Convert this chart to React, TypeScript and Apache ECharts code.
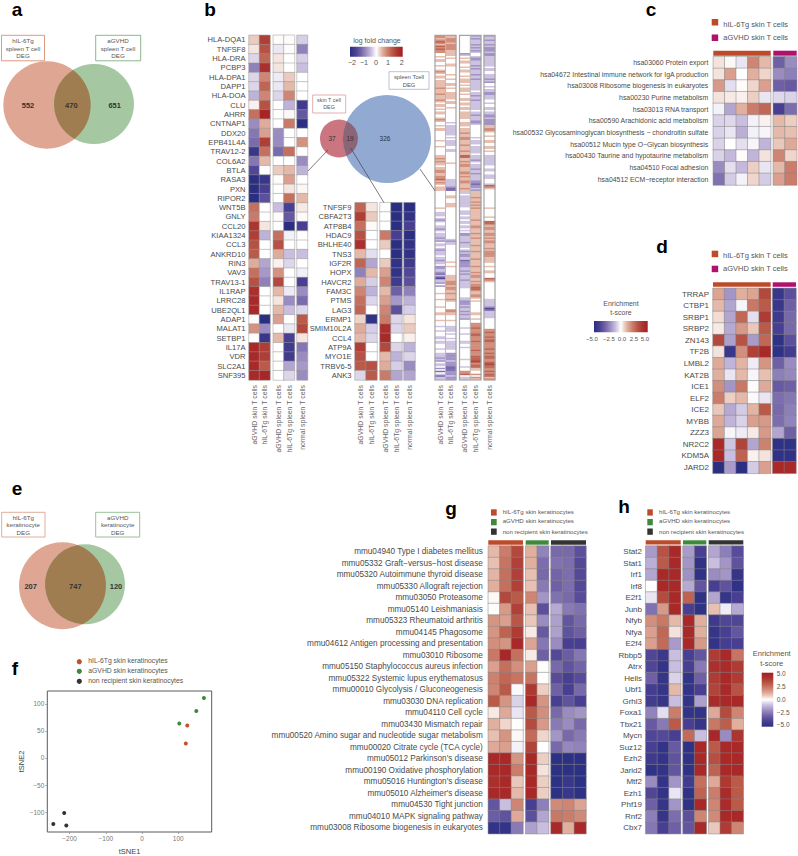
import React, { useEffect, useRef } from "react";
import * as echarts from "echarts";

const FONT = "Liberation Sans";

// ---------- panel b, left heatmap (log fold change) ----------
const bLeftGenes = ["HLA-DQA1","TNFSF8","HLA-DRA","PCBP3","HLA-DPA1","DAPP1","HLA-DOA","CLU","AHRR","CNTNAP1","DDX20","EPB41L4A","TRAV12-2","COL6A2","BTLA","RASA3","PXN","RIPOR2","WNT5B","GNLY","CCL20","KIAA1324","CCL3","ANKRD10","RIN3","VAV3","TRAV13-1","IL1RAP","LRRC28","UBE2QL1","ADAP1","MALAT1","SETBP1","IL17A","VDR","SLC2A1","SNF395"];
const bLeftValues = [
[0.3,1.5,0.02,0.02,-0.3],[0.15,1.3,-0.15,0.02,-0.9],[-0.25,1.1,0.15,0,-0.3],[-0.9,1.7,0.15,0,-0.4],[-0.25,0.8,-0.12,0.3,0],
[-0.25,1.1,-0.15,0.4,0],[-0.5,0.8,-0.25,0.8,0],[0.08,1.3,0,-0.5,-1.7],[1.0,1.9,0,0.05,-1.3],[-0.8,0.5,0,0.9,-2],
[-1.0,0.6,-0.8,0,0],[-1.1,1.5,-0.8,0,0.7],[-1.8,1.0,-1.1,1.0,0],[-1.0,0.4,0,0,-0.8],[-1.5,0,0.3,0.4,-0.5],
[-2,-1.8,0.02,0.6,0],[-2,-1.6,0,0.15,0.05],[-2,-1.4,0,1.0,0.4],[1.0,0,-0.4,-1.6,0.12],[0.9,0,0.02,-1.3,0.03],
[1.6,0.15,0,-2,-1.6],[1.5,-0.5,1.0,-0.08,0],[1.3,0,1.3,0,0],[1.2,0,0.5,-0.4,-0.4],[0.5,-0.6,0.08,-0.25,0],
[1.0,-0.7,0.7,0,-0.1],[1.3,-0.9,1.4,0,-1.6],[1.7,0,0.4,-0.12,-0.8],[1.8,0,0.15,-0.8,-1.1],[1.8,0,0.4,-0.4,-0.25],
[0.03,-2,0.6,0,1.2],[0.7,-0.8,0,-0.15,1.4],[0,-1.8,0.4,-1.6,0.15],[1.8,1.5,0,-1.7,-1.0],[1.8,1.5,0,-1.7,-0.8],
[1.8,1.2,0,-0.6,-0.7],[1.8,1.85,0,-0.25,-0.8]];

// ---------- panel b, middle heatmap ----------
const bMidGenes = ["TNFSF9","CBFA2T3","ATP8B4","HDAC9","BHLHE40","TNS3","IGF2R","HOPX","HAVCR2","FAM3C","PTMS","LAG3","ERMP1","SMIM10L2A","CCL4","ATP9A","MYO1E","TRBV6-5","ANK3"];
const bMidValues = [
[1.1,0.15,0,-2,-2],[1.5,0.3,0,-2,-1.9],[1.0,0.03,0,-2,-1.6],[1.3,0,0.9,-1.6,-2],[1.7,0,0.3,-2,-1.9],
[0.4,-0.2,0,-2,-1.9],[1.1,-0.6,0.3,-1.9,-1.7],[-0.9,0.4,0.6,-1.9,-1.5],[0.5,-0.3,0.8,-1.7,-1.4],[0.8,-0.5,0.4,-1.2,-0.9],
[1.0,-0.25,0.6,-0.7,-0.5],[1.1,0,0.8,-1.4,-0.3],[0.25,-1.9,0.9,-0.25,0.15],[0.5,-0.3,1.7,-0.25,0.3],[0.4,-0.25,1.8,0,0.08],
[1.5,0,1.4,-0.25,-0.5],[1.3,0,0.4,-0.5,-0.25],[1.2,1.3,0.5,-0.3,-0.8],[-0.25,1.2,0.9,-0.6,-0.6]];

// ---------- panel b, right strip heatmap: one digit per band, 4 = no change ----------
const stripAgvhdSkin = "665676576766"+"44545544544565455455"+"5556555655565455"+"4545544565445455"+"4444445444544444"+"556565545566556675654555"+"44444444444544"+"3334323443323433323243343233"+"3433233422332131033242"+"444454445444454445544454"+"44344344433433444344"+"333232433424143133";
const stripHil6Skin = "556665666655"+"55454445544444544544"+"5545445555545544"+"5444444444343333"+"3334343333443344"+"444445444444444433333211"+"44455444555444"+"4444444444444444443233444444"+"4444454454444455556665"+"665565556544444665544454"+"44333343443433333344"+"222223222111222322";
const stripAgvhdSpleen = "444444444444"+"23454554454554454555"+"4545554544554554"+"5545555544555455"+"5655665556555655"+"775565665556656556655565"+"33433333333443"+"3343343343343422333323334323"+"2233122223323233323333"+"344444433222323323233244"+"44434443444433443444"+"444434444344667433";
const stripHil6Spleen = "232333232323"+"44322333232333233233"+"3333343323323333"+"3343323332234444"+"4444343334333334"+"333234333233233332212232"+"55556556565655"+"5555565556655565565555655565"+"5556555565556566556566"+"776556654544444445544544"+"66676667766676666676"+"667778767755446465";
const stripNormalSpleen = "233233232223"+"22333333343344333232"+"4434332233344344"+"3343322322225566"+"5445445544554544"+"333333344334433344437654"+"44444444444544"+"4445447765665566565665556566"+"6655554454455444765444"+"444444443333320133333444"+"44446676676776666766"+"767766787766767756";

const bColumns = ["aGVHD skin T cells","hIL-6Tg skin T cells","aGVHD spleen T cells","hIL-6Tg spleen T cells","normal spleen T cells"];

// ---------- panel c ----------
const cPathways = ["hsa03060 Protein export","hsa04672 Intestinal immune network for IgA production","hsa03008 Ribosome biogenesis in eukaryotes","hsa00230 Purine metabolism","hsa03013 RNA transport","hsa00590 Arachidonic acid metabolism","hsa00532 Glycosaminoglycan biosynthesis − chondroitin sulfate","hsa00512 Mucin type O−Glycan biosynthesis","hsa00430 Taurine and hypotaurine metabolism","hsa04510 Focal adhesion","hsa04512 ECM−receptor interaction"];
const cValues = [
[0.4,0.1,-0.4,2,1,-3,-2],[0.4,1.5,0,1.2,0.6,-2,-2.3],[1.6,-0.5,0.05,0.6,1.5,-3,-3.2],[0.4,0.3,0.2,0.7,-0.4,-0.6,-0.7],
[-0.2,-1.5,1.2,2.2,2.7,-4,-2.7],[-0.7,-0.6,-1,-0.2,0.2,1,0.7],[-0.7,-0.4,-1.3,-0.2,-0.15,1,0.9],[-0.7,0,-0.5,-0.15,-1.2,0.8,1.3],
[-0.7,-1.1,0.05,-1.2,0.4,2,0.6],[-2,-0.5,-1.1,0.7,-0.4,1,2.2],[-2.6,-0.8,-0.2,0.6,-0.8,1.5,2.2]];

// ---------- panel d ----------
const dFactors = ["TRRAP","CTBP1","SRBP1","SRBP2","ZN143","TF2B","LMBL2","KAT2B","ICE1","ELF2","ICE2","MYBB","ZZZ3","NR2C2","KDM5A","JARD2"];
const dValues = [
[1.4,-1.8,1.2,1.4,3.5,-4.5,-3.5],[1.0,-1.5,-0.15,2.3,3,-4.5,-3],[0.5,-1.5,2.7,-0.5,3.8,-4.3,-2.8],[0.3,-1.4,1.6,0.8,3,-4,-2.8],
[3.5,-1.6,3.2,-1.7,2.7,-4.8,-3.5],[0.4,-4.5,1.8,3.7,4.5,-4.8,-4.2],[1.3,-1.2,1.1,-0.3,1.7,-3,-2],[1.2,-0.4,1,-0.15,0.9,-2.3,-2.1],
[1.8,-1.8,2.3,0.05,1.3,-3.2,-3],[2.2,0.7,1,-0.1,-0.4,-2.7,-2.5],[0.8,-1.4,-0.8,1.1,3,-2.8,-2.3],[1.3,-1.2,-0.7,1.5,1.6,-2.7,-2.2],
[1.4,-0.15,-0.3,0.3,1.6,-1.5,-3],[4.5,-0.9,3.6,-1.5,2.1,-4.8,-4.8],[4.5,-1,2.8,0.2,0.4,-4.8,-4.8],[-5,-1.7,-5,-0.8,1.5,4.5,4.5]];

// ---------- panel g ----------
const gPathways = ["mmu04940 Type I diabetes mellitus","mmu05332 Graft−versus−host disease","mmu05320 Autoimmune thyroid disease","mmu05330 Allograft rejection","mmu03050 Proteasome","mmu05140 Leishmaniasis","mmu05323 Rheumatoid arthritis","mmu04145 Phagosome","mmu04612 Antigen processing and presentation","mmu03010 Ribosome","mmu05150 Staphylococcus aureus infection","mmu05322 Systemic lupus erythematosus","mmu00010 Glycolysis / Gluconeogenesis","mmu03030 DNA replication","mmu04110 Cell cycle","mmu03430 Mismatch repair","mmu00520 Amino sugar and nucleotide sugar metabolism","mmu00020 Citrate cycle (TCA cycle)","mmu05012 Parkinson's disease","mmu00190 Oxidative phosphorylation","mmu05016 Huntington's disease","mmu05010 Alzheimer's disease","mmu04530 Tight junction","mmu04010 MAPK signaling pathway","mmu03008 Ribosome biogenesis in eukaryotes"];
const gValues = [
[1,2.2,3.5,1.2,-2.2,-2.8,-2.8,-3.5],[0.9,2.4,3.7,1.2,-2.7,-2.6,-2.7,-3.7],[1.1,2.5,3.7,0.9,-2.8,-2.9,-2.7,-3.7],[1.2,2.5,3.7,0.9,-2.4,-3,-2.7,-3.7],
[0.1,3.5,3,2,-1.8,-2.6,-2.8,-3.6],[0.05,1.6,3.7,0.9,-3.5,-1.4,-2.4,-2.6],[1.7,1.5,3.1,0.8,-2,-1.6,-3.3,-2.8],[1.7,2.8,3.8,0.3,-3.2,-1.6,-3.4,-3],
[1.8,1.7,4.5,1.4,-2.5,-2,-4,-4],[2.3,4.6,2.5,0.3,-3,-3.7,-3.1,-2.5],[1.5,2.5,1.8,1.5,0.03,-2.8,-3.4,-2.9],[2.1,2.7,2.4,2.4,0.02,-3.6,-4,-3.6],
[2,3,-0.1,3.9,0.7,-3,-4,-2.8],[3,1.7,-0.7,4.5,1.7,-4,-3.4,-4],[0.3,1.3,-0.4,3,1.8,-2.8,-2,-1.8],[1.2,0.6,0.02,3.4,1.6,-2.4,-2,-2.8],
[0.9,1.7,0.1,2.6,0.6,-1.8,-2.8,-2.4],[1.3,1.5,-0.2,3.6,0,-2.8,-2.1,-2.2],[4.5,4.5,1.7,4.5,0.7,-4.9,-4.9,-4.9],[4.5,4.5,2.2,4.5,0.4,-4.9,-4.9,-4.9],
[4.2,4.5,0.8,4.5,0.7,-4.9,-4.5,-4.9],[4.5,4.5,1,4.5,0.7,-4.9,-4.5,-4.9],[-3.3,-1,2,-4,-2.3,1.9,2,1.4],[-3.1,-3.4,1.3,-3.5,-1.5,2.3,2.2,1.9],[-4.7,-4.7,-2.4,-1.6,-1,4.5,1.2,4.5]];

// ---------- panel h ----------
const hFactors = ["Stat2","Stat1","Irf1","Irf8","E2f1","Junb","Nfyb","Nfya","E2f4","Rbbp5","Atrx","Hells","Ubf1","Grhl3","Foxa1","Tbx21","Mycn","Suz12","Ezh2","Jarid2","Mtf2","Ezh1","Phf19","Rnf2","Cbx7"];
const hValues = [
[-1.7,3.2,4.5,-1.7,-4,-1.5,-2.3,-3.6],[-1.3,3,4.5,-1.8,-4.8,-1,-1.8,-3.4],[-1.5,4.5,4.5,-1.9,-4.8,-2,-1.8,-4.6],[0,4.5,4.5,-1.4,-3.3,-4,-3.4,-4.8],
[-0.4,3.4,4.5,2.8,-4.8,-1.5,-4.6,-4],[-2.6,1.6,4.5,-4,-4.8,0.9,-0.3,-1.4],[1.8,2.3,1,4.5,1.2,-4.3,-3.8,-3.8],[1.5,2.7,0.4,4.5,1.2,-4.6,-4,-3.3],
[1.5,2.6,-1.7,4.5,1.6,-4.7,-4.1,-4],[-3.8,-4.4,-1,-4,-3.3,3.8,4.5,2.4],[-3.8,-4.7,-1,-4,-2.4,4.2,4.4,3.8],[-3,-4.6,-0.7,-4.7,-3,3.8,4.5,3.8],
[-4.1,-4.6,1,-4.7,-4,3.6,4.5,3.2],[-4.2,-4.6,-1,-4.7,-1.6,4.4,4.5,4.5],[-2.2,-0.5,2.2,-4.7,-4.7,1.3,3.4,2],[-3.2,-2.4,3,-4,-4.6,2.3,2.9,1.2],
[-3.8,-3.7,-4,2.6,-1,4.6,-2,4],[-4,-4.7,-3.2,-4.8,4.5,3,4.5,4.5],[-4.3,-4.7,-3.4,-4.8,4.5,3.3,4.5,4.5],[-4.8,-4.7,-3.3,-4.8,4.5,2.8,4.5,4.5],
[-2,-4.7,-1.8,-4.2,2.5,1.3,3.9,3],[-3.8,-4.7,-0.4,-4.8,2.8,2.2,4.4,3],[-3,-4.6,-1.8,-4.8,4.5,2,4.4,3],[-2.3,-4.6,-2.7,-3.5,2,1.9,4.5,4.5],[-2.5,-4,-3,-3.3,4.5,0.8,3.8,2]];

// ---------- panel f ----------
const fHil6 = [[125,60],[121,27]];
const fAgvhd = [[103,64],[150,87],[171,111]];
const fNonRecipient = [[-215,-102],[-245,-122],[-209,-125]];
const fXTicks = [-200,-100,0,100];
const fYTicks = [-100,-50,0,50,100];

// ---------- Venn counts ----------
const vennA = ["552","470","651"];
const vennB = ["37","19","326"];
const vennE = ["207","747","120"];

const SCALE = ["#2a2f82","#483f92","#6f60a6","#9a8cc1","#c9bedf","#ffffff","#e4b9a9","#cf8573","#ba5a49","#ab3530","#a61d22"];

function lensPath(a: number[], b: number[]) {
  const [x1,y1,r1] = a, [x2,y2,r2] = b;
  const d = Math.hypot(x2-x1,y2-y1);
  const l = (r1*r1-r2*r2+d*d)/(2*d);
  const h = Math.sqrt(r1*r1-l*l);
  const ux=(x2-x1)/d, uy=(y2-y1)/d;
  const px=x1+ux*l, py=y1+uy*l;
  const ax=px-uy*h, ay=py+ux*h, bx=px+uy*h, by=py-ux*h;
  const large2 = l > d ? 1 : 0;
  return `M${ax} ${ay}A${r1} ${r1} 0 0 0 ${bx} ${by}A${r2} ${r2} 0 ${large2} 0 ${ax} ${ay}Z`;
}

export default function App() {
  const ref = useRef<HTMLDivElement>(null);
  useEffect(() => {
    const chart = echarts.init(ref.current!, undefined, { renderer: "svg" });
    const grids: any[] = [], xAxes: any[] = [], yAxes: any[] = [], series: any[] = [];
    const els: any[] = [];
    const fcSeries: number[] = [], tSeries: number[] = [];

    const txt = (x: number, y: number, text: string, size: number, fill = "#555", align = "left", weight = "normal", extra: any = {}) =>
      els.push({ type: "text", x, y, z: 100, silent: true, ...extra,
        style: { text, fill, font: `${weight} ${size}px "${FONT}"`, align, verticalAlign: "middle", textAlign: align, textVerticalAlign: "middle" } });
    const rect = (x: number, y: number, w: number, h: number, fill: any, stroke: any = null, lw = 0) =>
      els.push({ type: "rect", z: 100, silent: true, shape: { x, y, width: w, height: h }, style: { fill, stroke, lineWidth: lw } });
    const line = (x1: number, y1: number, x2: number, y2: number, stroke = "#444", lw = 0.7) =>
      els.push({ type: "line", z: 100, silent: true, shape: { x1, y1, x2, y2 }, style: { stroke, lineWidth: lw } });

    const addBlock = (o: { left: number; right: number; top: number; bottom: number; rows: string[]; cols: string[]; values: number[][];
      rowLabels: boolean; rowSize: number; rowMargin: number; colLabels: boolean; isFc: boolean; border: string; bw: number }) => {
      const i = grids.length;
      grids.push({ left: o.left, top: o.top, width: o.right - o.left, height: o.bottom - o.top, show: false });
      xAxes.push({ gridIndex: i, type: "category", data: o.cols, position: "bottom",
        axisLine: { show: false }, axisTick: { show: false }, splitLine: { show: false },
        axisLabel: { show: o.colLabels, rotate: 90, interval: 0, margin: 5, fontSize: 6.9, color: "#666", fontFamily: FONT } });
      yAxes.push({ gridIndex: i, type: "category", data: o.rows, inverse: true,
        axisLine: { show: false }, axisTick: { show: false }, splitLine: { show: false },
        axisLabel: { show: o.rowLabels, interval: 0, margin: o.rowMargin, fontSize: o.rowSize, color: "#4a4a4a", fontFamily: FONT } });
      const data: any[] = [];
      o.values.forEach((r, y) => r.forEach((v, x) => data.push([x, y, v])));
      (o.isFc ? fcSeries : tSeries).push(series.length);
      series.push({ type: "heatmap", xAxisIndex: i, yAxisIndex: i, data, progressive: 0,
        itemStyle: { borderColor: o.border, borderWidth: o.bw }, emphasis: { disabled: true } });
    };

    // Panel b three heatmaps
    const bSlice = (m: number[][], a: number, b: number) => m.map((r) => r.slice(a, b));
    const bGroups = (offs: number[][], genes: string[], vals: number[][], top: number) => {
      const splits = [[0,2],[2,4],[4,5]];
      offs.forEach((g, k) => addBlock({ left: g[0], right: g[1], top, bottom: 380, rows: genes, cols: bColumns.slice(splits[k][0], splits[k][1]),
        values: bSlice(vals, splits[k][0], splits[k][1]), rowLabels: k === 0, rowSize: 7.6, rowMargin: 3.5, colLabels: true, isFc: true, border: "#969696", bw: 0.5 }));
    };
    bGroups([[249,270],[273.3,294.5],[297,307.5]], bLeftGenes, bLeftValues, 35.3);
    bGroups([[355,377],[380,402],[404,415]], bMidGenes, bMidValues, 202.7);

    const strips = [stripAgvhdSkin, stripHil6Skin, stripAgvhdSpleen, stripHil6Spleen, stripNormalSpleen];
    const nBands = strips[0].length;
    const bands = Array.from({ length: nBands }, (_, i) => strips.map((s) => (Number(s[i]) - 4) / 2.7));
    const bandNames = bands.map((_, i) => String(i + 1));
    const splits = [[0,2],[2,4],[4,5]];
    [[435,456],[459.5,481],[484,495]].forEach((g, k) => {
      addBlock({ left: g[0], right: g[1], top: 35.3, bottom: 380, rows: bandNames, cols: bColumns.slice(splits[k][0], splits[k][1]),
        values: bSlice(bands, splits[k][0], splits[k][1]), rowLabels: false, rowSize: 7, rowMargin: 3, colLabels: true, isFc: true, border: "transparent", bw: 0 });
      rect(g[0], 35.3, g[1] - g[0], 344.7, "none", "#a3a3a3", 1.2);
      if (g[1] - g[0] > 15) line((g[0] + g[1]) / 2, 35.3, (g[0] + g[1]) / 2, 380, "#b8b8b8", 1);
    });

    // Panel c, d, g, h
    const emptyCols = (n: number) => Array.from({ length: n }, (_, i) => "s" + (i + 1));
    const tBlocks = (groups: number[][], counts: number[], top: number, bottom: number, rows: string[], vals: number[][], size: number, margin: number) => {
      let a = 0;
      groups.forEach((g, k) => {
        const b = a + counts[k];
        addBlock({ left: g[0], right: g[1], top, bottom, rows, cols: emptyCols(counts[k]), values: bSlice(vals, a, b),
          rowLabels: k === 0, rowSize: size, rowMargin: margin, colLabels: false, isFc: false, border: "#858585", bw: 0.5 });
        a = b;
      });
    };
    tBlocks([[713.3,770.7],[773.3,796.7]], [5,2], 56.7, 185, cPathways, cValues, 6.9, 5);
    tBlocks([[713,770.7],[772.7,796]], [5,2], 288.3, 473.3, dFactors, dValues, 8, 4);
    tBlocks([[488.3,523],[525.7,548.7],[551,586]], [3,2,3], 546, 833.7, gPathways, gValues, 8.2, 5.5);
    tBlocks([[645.7,680.7],[683,706.3],[708.7,743.3]], [3,2,3], 546, 833.7, hFactors, hValues, 8, 3.7);

    // Panel f scatter
    const fi = grids.length;
    grids.push({ left: 47.3, top: 691, width: 164.4, height: 147.7, show: true, borderColor: "#5a5a5a", borderWidth: 1, backgroundColor: "transparent" });
    const tick = { show: true, length: 2, lineStyle: { color: "#888", width: 0.7 } };
    xAxes.push({ gridIndex: fi, type: "value", min: -261.6, max: 192.5, name: "tSNE1", nameLocation: "middle", nameGap: 15,
      nameTextStyle: { fontSize: 7.5, color: "#444", fontFamily: FONT },
      axisLine: { show: false, onZero: false }, splitLine: { show: false }, axisTick: { ...tick, customValues: fXTicks },
      axisLabel: { customValues: fXTicks, fontSize: 6.5, color: "#777", margin: 3, fontFamily: FONT, formatter: (v: number) => String(v).replace("-", "−") } });
    yAxes.push({ gridIndex: fi, type: "value", min: -137, max: 124, name: "tSNE2", nameLocation: "middle", nameGap: 14, nameRotate: 90,
      nameTextStyle: { fontSize: 7.5, color: "#444", fontFamily: FONT },
      axisLine: { show: false, onZero: false }, splitLine: { show: false }, axisTick: { ...tick, customValues: fYTicks },
      axisLabel: { customValues: fYTicks, fontSize: 6.5, color: "#777", margin: 3, fontFamily: FONT, formatter: (v: number) => String(v).replace("-", "−") } });
    ([[fHil6, "#c0512a"], [fAgvhd, "#3f8a3a"], [fNonRecipient, "#333333"]] as any[]).forEach(([d, c]) =>
      series.push({ type: "scatter", xAxisIndex: fi, yAxisIndex: fi, data: d, symbolSize: 4, itemStyle: { color: c, opacity: 1 } }));

    // Venns
    const venn = (name: string, c1: number[], c2: number[], f1: string, f2: string, fl: string) => {
      echarts.graphic.registerShape(name, echarts.graphic.extendPath(lensPath(c1, c2), {}) as any);
      els.push({ type: "circle", z: 50, silent: true, shape: { cx: c1[0], cy: c1[1], r: c1[2] }, style: { fill: f1 } });
      els.push({ type: "circle", z: 51, silent: true, shape: { cx: c2[0], cy: c2[1], r: c2[2] }, style: { fill: f2 } });
      els.push({ type: name, z: 52, silent: true, x: 0, y: 0, style: { fill: fl } });
    };
    const RED = "#dfa793", GRN = "#a5c8a2", LENS = "#a07d50";
    const VT = "#555";
    venn("lensA", [47,105,43.7], [94,104,40], RED, GRN, LENS);
    vennA.forEach((t, i) => txt([28,71.3,114.7][i], 105.7, t, 7.5, "#333", "center", "bold"));
    rect(1.5,35.3,43,25.5,"#fff","#d98f75",0.9); rect(95.7,35.3,45,25.5,"#fff","#7fb07f",0.9);
    ["hIL-6Tg","spleen T cell","DEG"].forEach((t,i)=>txt(23,40.5+7.7*i,t,6.2,VT,"center"));
    ["aGVHD","spleen T cell","DEG"].forEach((t,i)=>txt(118,40.5+7.7*i,t,6.2,VT,"center"));

    venn("lensE", [62.5,585.7,43.5], [85,584.3,40], RED, GRN, LENS);
    vennE.forEach((t, i) => txt([30.7,75.3,116][i], 586.3, t, 7.5, "#333", "center", "bold"));
    rect(1.7,512.3,43.3,24.7,"#fff","#e0a48f",0.9); rect(95.7,512.3,44,24.7,"#fff","#8dba8d",0.9);
    ["hIL-6Tg","keratinocyte","DEG"].forEach((t,i)=>txt(23.3,517+7.7*i,t,6.2,VT,"center"));
    ["aGVHD","keratinocyte","DEG"].forEach((t,i)=>txt(117.7,517+7.7*i,t,6.2,VT,"center"));

    venn("lensB", [339,138.5,19], [387,139,44], "#cb7580", "#92a9d2", "#8c6478");
    vennB.forEach((t, i) => txt([332,350,385][i], 138.5, t, 6.5, "#333", "center"));
    rect(312.7,95,33,18,"#fff","#dc9a9a",0.8); rect(389,71.7,40,17.6,"#fff","#a3b2d6",0.8);
    ["skin T cell","DEG"].forEach((t,i)=>txt(329,100+7*i,t,5.4,VT,"center"));
    ["spleen Tcell","DEG"].forEach((t,i)=>txt(409,77+7.5*i,t,5.8,VT,"center"));
    line(308,171,328,150); line(350.7,148,384,202.7); line(420,169,435,190.7);

    // Colour bars
    const grad = (horizontal: boolean, colors: string[]) => new echarts.graphic.LinearGradient(0, 0, horizontal ? 1 : 0, horizontal ? 0 : 1,
      colors.map((color, i) => ({ offset: i / (colors.length - 1), color })));
    txt(377,40.7,"log fold change",7,"#555","center");
    rect(350,46.7,52.7,10,grad(true,SCALE));
    [["−2",352],["−1",364],["0",376],["1",388],["2",401.7]].forEach(([t,x]) => txt(x as number,62,t as string,7.2,"#555","center"));

    txt(621,303,"Enrichment",7,"#555","center"); txt(621,312.7,"t-score",7,"#555","center");
    rect(594,321,53.7,11.3,grad(true,SCALE));
    [["−5.0",592],["−2.5",609],["0.0",622],["2.5",634],["5.0",645]].forEach(([t,x]) => txt(x as number,339,t as string,6,"#555","center"));

    txt(771.7,653.7,"Enrichment",7.5,"#555","center"); txt(771.7,663.3,"t-score",7.5,"#555","center");
    rect(761.7,672.7,11.6,54,grad(false,[...SCALE].reverse()));
    [["5.0",673.3],["2.5",686.7],["0.0",699.3],["−2.5",712],["−5.0",724.7]].forEach(([t,y]) => txt(776.7,y as number,t as string,6.5,"#555","left"));

    // Annotation bars and legends
    const HR = "#bd4b2a", MG = "#b0106e", GR = "#3f8a3a", DK = "#333333";
    rect(713.3,50.7,57.4,5,HR); rect(773.3,50.7,23.4,5,MG);
    rect(711.7,19,6.5,6.5,HR); rect(711.7,34.5,6.5,6.5,MG);
    txt(723.3,24.5,"hIL-6Tg skin T cells",7.5); txt(723.3,37,"aGVHD skin T cells",7.5);
    rect(713,282.3,57.7,4.5,HR); rect(772.7,282.3,23.3,4.5,MG);
    rect(711.7,250.7,6.5,6.5,HR); rect(711.7,265.7,6.5,6.5,MG);
    txt(723,255.7,"hIL-6Tg skin T cells",7.5); txt(723,268,"aGVHD skin T cells",7.5);

    const kLegend = ["hIL-6Tg skin keratinocytes","aGVHD skin keratinocytes","non recipient skin keratinocytes"];
    const kCols = [HR, GR, DK];
    rect(488.3,540.3,34.7,4.4,HR); rect(525.7,540.3,23,4.4,GR); rect(551,540.3,35,4.4,DK);
    rect(645.7,540.3,35,4.2,HR); rect(683,540.3,23.3,4.2,GR); rect(708.7,540.3,34.6,4.2,DK);
    [[509.3,511],[519,520.7],[528.5,531.3]].forEach(([sy,ty],i)=>{
      rect(491,sy,5.7,6.3,kCols[i]); txt(502.7,ty,kLegend[i],6.1);
      rect(647.3,sy,5.5,6.3,kCols[i]); txt(659,ty,kLegend[i],6.1);
    });
    [661.7,671.3,681.3].forEach((y,i)=>{
      els.push({ type:"circle", z:100, silent:true, shape:{cx:79.3,cy:y,r:2.6}, style:{fill:["#c0512a","#3f8a3a","#333333"][i]} });
      txt(88.3,y-1,kLegend[i],6.8);
    });

    // Panel letters
    ([["a",17,9],["b",210,9],["c",651,9],["d",662,246],["e",17,488],["f",15,668],["g",451,508],["h",624,506]] as any[]).forEach(([t,x,y]) =>
      txt(x,y,t,19,"#000","center","bold"));

    chart.setOption({
      animation: false,
      textStyle: { fontFamily: FONT },
      tooltip: { show: false },
      grid: grids, xAxis: xAxes, yAxis: yAxes, series,
      visualMap: [
        { type: "continuous", show: false, min: -2, max: 2, seriesIndex: fcSeries, calculable: false, inRange: { color: SCALE } },
        { type: "continuous", show: false, min: -5, max: 5, seriesIndex: tSeries, calculable: false, inRange: { color: SCALE } },
      ],
      graphic: { elements: els },
    });
    return () => chart.dispose();
  }, []);
  return <div ref={ref} style={{ position: "absolute", left: 0, top: 0, width: 798, height: 856, background: "#fff" }} />;
}
